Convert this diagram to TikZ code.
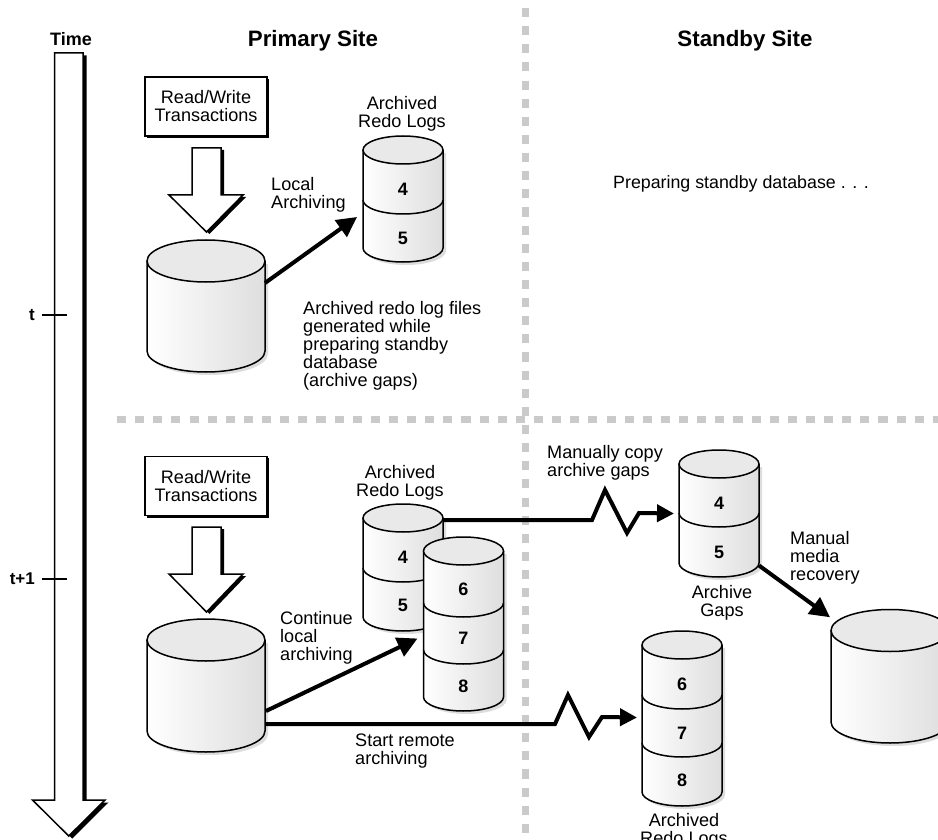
\documentclass[tikz,border=0pt]{standalone}
\usepackage{fontspec}
\setmainfont{Liberation Sans}
\usetikzlibrary{arrows.meta}
\definecolor{dashgrey}{HTML}{CACACA}
\definecolor{cyltop}{HTML}{E9E9E9}
\definecolor{cylshadow}{HTML}{DDDDDD}
\definecolor{cylside}{HTML}{DEDEDE}
\tikzset{
  lbl/.style={inner sep=0pt,font=\fontsize{18.1}{18}\selectfont,text=black},
  lblL/.style={lbl,align=left,anchor=west},
  lblC/.style={lbl,align=center,anchor=center},
  numlbl/.style={inner sep=0pt,font=\fontsize{18}{18}\selectfont\bfseries},
  head/.style={inner sep=0pt,font=\fontsize{22.3}{22.3}\selectfont\bfseries},
  ticklbl/.style={inner sep=0pt,anchor=east,font=\fontsize{17}{17}\selectfont\bfseries},
  timelbl/.style={inner sep=0pt,font=\fontsize{18}{18}\selectfont\bfseries},
  sitedash/.style={draw=dashgrey,line width=7pt,dash pattern=on 9.1pt off 9.03pt},
  thinline/.style={draw=black,line width=1.5pt},
  conn/.style={draw=black,line width=4pt,miter limit=12},
  tipA/.style={-{Triangle[length=20pt,width=20pt]}},
  tipB/.style={-{Triangle[length=17pt,width=17pt]}},
  bounds/.style={inner sep=0pt,outer sep=0pt,draw=none,fill=none,anchor=north west},
  rwbox/.style={thinline,fill=white,inner sep=0pt,minimum width=122pt,minimum height=59pt,align=center,font=\fontsize{18.1}{18}\selectfont,anchor=center},
}
% name, cx, cy of top ellipse, rx, ry, y where sides end, divider list
\newcommand{\cylshape}[7]{%
  \fill[cylshadow] (#2-#4+3,#3+3) -- (#2+#4+3,#3+3) -- (#2+#4+3,#6+3)
     arc[start angle=0,end angle=180,x radius=#4,y radius=#5] -- cycle;
  \path[shade,shading angle=90,left color=white,middle color=white!97!black,right color=cylside]
     (#2-#4,#3) -- (#2+#4,#3) -- (#2+#4,#6)
     arc[start angle=0,end angle=180,x radius=#4,y radius=#5] -- cycle;
  \draw[thinline,line join=round] (#2-#4,#3) -- (#2-#4,#6)
     arc[start angle=180,end angle=0,x radius=#4,y radius=#5] -- (#2+#4,#3);
  \foreach \dv in {#7}{%
    \draw[thinline] (#2-#4,\dv) arc[start angle=180,end angle=0,x radius=#4,y radius=#5];
  }
  \draw[thinline,fill=cyltop] (#2,#3) ellipse[x radius=#4,y radius=#5];
  \node[bounds,minimum width=2*#4 pt,minimum height=(#6+#5-#3+#5)*1pt] (#1) at (#2-#4,#3-#5) {};
}
% block arrow: shaft left, shaft right, top, shoulder, head left, head right, tip y; black shadow offset
\newcommand{\blockarrow}[9]{%
  \fill[black] (#1+#8,#3+#9) -- (#2+#8,#3+#9) -- (#2+#8,#4+#9) -- (#6+#8,#4+#9) -- ({(#1+#2)/2+#8},#7+#9) -- (#5+#8,#4+#9) -- (#1+#8,#4+#9) -- cycle;
  \draw[thinline,fill=white,miter limit=10] (#1,#3) -- (#2,#3) -- (#2,#4) -- (#6,#4) -- ({(#1+#2)/2},#7) -- (#5,#4) -- (#1,#4) -- cycle;
}
\begin{document}
\begin{tikzpicture}[x=1pt,y=-1pt]
\useasboundingbox (0,0) rectangle (938,840);
\clip (0,0) rectangle (938,840);
\fill[white] (0,0) rectangle (938,840);

% site separators
\coordinate (vtop) at (525.3,8);
\coordinate (vbot) at (525.3,840);
\coordinate (hleft) at (117,419.5);
\coordinate (hright) at (938,419.5);
\draw[sitedash] (vtop) -- (vbot);
\draw[sitedash] (hleft) -- (hright);

% time arrow
\blockarrow{54.5}{83}{53}{800}{32.5}{105}{836}{3.5}{2.5}
\coordinate (t0a) at (42,315); \coordinate (t0b) at (67,315);
\coordinate (t1a) at (42,579); \coordinate (t1b) at (67,579);
\draw[thinline] (t0a) -- (t0b);
\draw[thinline] (t1a) -- (t1b);
\node[timelbl] (timeL) at (71,39) {Time};
\node[ticklbl] (tL) at (35,315) {t};
\node[ticklbl] (t1L) at (35,579) {t+1};

% headings
\node[head] (primary) at (313,41) {Primary Site};
\node[head] (standby) at (745,41) {Standby Site};

% top panel
\fill[black] (147,79) rectangle (269,138);
\node[rwbox] (rw1) at (206,106.5) {Read/Write\\Transactions};
\blockarrow{192}{221}{148}{195}{169}{243}{232}{3}{2}
\cylshape{db1}{206}{261}{59}{21}{351}{}
\cylshape{logs1}{403}{150}{40}{14}{248}{200}
\node[numlbl] (n14) at (403,189) {4};
\node[numlbl] (n15) at (403,238) {5};
\node[lblC] (al1) at (402,114) {Archived\\Redo Logs};
\node[lblL] (la) at (271,195) {Local\\Archiving};
\node[lblL,font=\fontsize{17.8}{18}\selectfont] (prep) at (613,184) {Preparing standby database . . .};
\node[lblL] (gapsnote) at (303,346) {Archived redo log files\\generated while\\preparing standby\\database\\(archive gaps)};
\draw[conn,tipA] ([yshift=23pt]db1.east) -- ([xshift=-6pt,yshift=-18pt]logs1.west);

% bottom panel
\fill[black] (147,458) rectangle (269,518);
\node[rwbox] (rw2) at (206,486) {Read/Write\\Transactions};
\blockarrow{192}{221}{527}{574}{169}{243}{612}{3}{2}
\cylshape{db2}{206}{640}{59}{21}{731}{}
\cylshape{logs2}{403}{518}{40}{14}{617}{568}
\node[numlbl] (n24) at (403,557) {4};
\node[numlbl] (n25) at (403,605) {5};
\node[lblC] (al2) at (400,483) {Archived\\Redo Logs};
\cylshape{stack1}{463.5}{551}{40}{14}{697}{603,650}
\node[numlbl] (n26) at (463.5,589) {6};
\node[numlbl] (n27) at (463.5,638) {7};
\node[numlbl] (n28) at (463.5,686) {8};
\cylshape{gaps}{719}{464}{40}{14}{563}{513}
\node[numlbl] (n34) at (719,503) {4};
\node[numlbl] (n35) at (719,552) {5};
\cylshape{stack2}{682}{645}{40}{14}{792}{695,743}
\node[numlbl] (n46) at (682,684) {6};
\node[numlbl] (n47) at (682,733) {7};
\node[numlbl] (n48) at (682,780) {8};
\cylshape{db3}{890}{630.5}{59}{21}{722}{}

\node[lblL] (cl) at (280,638) {Continue\\local\\archiving};
\node[lblL] (sr) at (355,751) {Start remote\\archiving};
\node[lblL] (mc) at (547,463) {Manually copy\\archive gaps};
\node[lblL] (mm) at (790,557.5) {Manual\\media\\recovery};
\node[lblC] (ag) at (722,603) {Archive\\Gaps};
\node[lblC] (al3) at (684,831) {Archived\\Redo Logs};

% connectors
\draw[conn,tipA] ([xshift=1pt,yshift=-25.5pt]db2.east) -- ([xshift=-6pt,yshift=-14.5pt]stack1.west);
\coordinate (a1) at (555,724); \coordinate (a2) at (568,695); \coordinate (a3) at (589,737); \coordinate (a4) at (602,717);
\draw[conn,tipB] ([yshift=-38.5pt]db2.east) -- (a1) -- (a2) -- (a3) -- (a4) -- ([xshift=-5pt,yshift=1pt]stack2.west);
\coordinate (b1) at (592,520); \coordinate (b2) at (605,490); \coordinate (b3) at (627,533); \coordinate (b4) at (639,513);
\draw[conn,tipB] ([yshift=47.5pt]logs2.east) -- (b1) -- (b2) -- (b3) -- (b4) -- ([xshift=-5pt]gaps.west);
\draw[conn,tipA] ([yshift=-52pt]gaps.east) -- ([xshift=-1pt,yshift=59pt]db3.west);
\end{tikzpicture}
\end{document}
